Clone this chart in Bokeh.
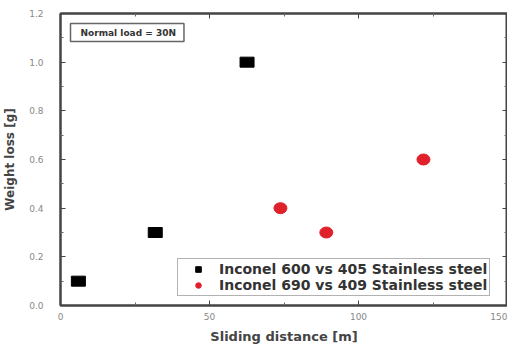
from bokeh.plotting import figure
from bokeh.models import LinearAxis, Range1d, Legend, LegendItem, Label, FixedTicker
from bokeh.embed import file_html
from bokeh.resources import INLINE

# Data
s1_name = "Inconel 600 vs 405 Stainless steel"
s1_x = [6.0, 31.8, 62.6]
s1_y = [0.1, 0.3, 1.0]
s2_name = "Inconel 690 vs 409 Stainless steel"
s2_x = [73.8, 89.2, 121.8]
s2_y = [0.4, 0.3, 0.6]
x_ticks = [0, 50, 100, 150]
x_minor = [25, 75, 125]
y_ticks = [0.0, 0.2, 0.4, 0.6, 0.8, 1.0, 1.2]
y_minor = [0.1, 0.3, 0.5, 0.7, 0.9, 1.1]
y_tick_labels = {0.0: "0.0", 0.2: "0.2", 0.4: "0.4", 0.6: "0.6", 0.8: "0.8", 1.0: "1.0", 1.2: "1.2"}

FONT = "DejaVu Sans"

p = figure(frame_width=447, frame_height=292, output_backend="svg", toolbar_location=None,
           x_range=Range1d(0, 150), y_range=Range1d(0, 1.2),
           min_border_left=0, min_border_right=0, min_border_top=13, min_border_bottom=0,
           background_fill_color="white", border_fill_color="white")
p.xgrid.visible = False
p.ygrid.visible = False
p.outline_line_color = "#444444"
p.outline_line_width = 2

def style_axis(ax):
    ax.axis_line_color = "#444444"
    ax.axis_line_width = 2
    ax.major_tick_in = 5
    ax.major_tick_out = 0
    ax.minor_tick_in = 3
    ax.minor_tick_out = 0
    ax.major_tick_line_color = "#444444"
    ax.minor_tick_line_color = "#666666"
    ax.major_label_text_font = FONT
    ax.major_label_text_font_size = "9px"
    ax.major_label_text_color = "#888888"

p.xaxis.ticker = FixedTicker(ticks=x_ticks, minor_ticks=x_minor)
p.yaxis.ticker = FixedTicker(ticks=y_ticks, minor_ticks=y_minor)
p.yaxis.major_label_overrides = y_tick_labels
style_axis(p.xaxis[0])
style_axis(p.yaxis[0])
p.xaxis.major_label_standoff = 7
p.yaxis.major_label_standoff = 17
p.xaxis.axis_label = "Sliding distance [m]"
p.yaxis.axis_label = "Weight loss [g]"
for ax in (p.xaxis[0], p.yaxis[0]):
    ax.axis_label_text_font = FONT
    ax.axis_label_text_font_style = "bold"
    ax.axis_label_text_color = "#444444"
p.xaxis.axis_label_text_font_size = "13px"
p.yaxis.axis_label_text_font_size = "12px"
p.xaxis.axis_label_standoff = 6
p.yaxis.axis_label_standoff = 9

top = LinearAxis(ticker=FixedTicker(ticks=x_ticks, minor_ticks=x_minor))
style_axis(top)
top.major_label_overrides = {t: "" for t in x_ticks}
top.major_label_standoff = 0
p.add_layout(top, "above")
right = LinearAxis(ticker=FixedTicker(ticks=y_ticks, minor_ticks=y_minor))
style_axis(right)
right.major_label_overrides = {t: "" for t in y_ticks}
right.major_label_standoff = 5
p.add_layout(right, "right")

p.rect(s1_x, s1_y, width=14, height=10, width_units="screen", height_units="screen",
       color="black")
p.ellipse(s2_x, s2_y, width=13, height=11, width_units="screen", height_units="screen",
          color="#e0202a")

leg1 = p.scatter([-10], [-10], marker="square", size=7, color="black")
leg2 = p.scatter([-10], [-10], marker="circle", size=8, color="#e0202a")

legend = Legend(items=[LegendItem(label=s1_name, renderers=[leg1]),
                       LegendItem(label=s2_name, renderers=[leg2])],
                location=(117, 9))
legend.label_text_font = FONT
legend.label_text_font_style = "bold"
legend.label_text_font_size = "14px"
legend.label_text_color = "#333333"
legend.border_line_color = "#666666"
legend.border_line_width = 1
legend.glyph_width = 36
legend.glyph_height = 14
legend.label_height = 14
legend.spacing = 0
legend.padding = 2
legend.margin = 0
legend.label_standoff = 3
p.add_layout(legend, "center")

ann = Label(x=10, y=264, x_units="screen", y_units="screen",
            text="Normal load = 30N", text_font=FONT, text_baseline="bottom",
            text_font_style="bold", text_font_size="9px", text_color="#333333",
            border_line_color="#666666", border_line_width=1.5,
            background_fill_color="white",
            padding=dict(left=10, right=8, top=4, bottom=4))
p.add_layout(ann)

open("out.html", "w").write(file_html(p, INLINE))
